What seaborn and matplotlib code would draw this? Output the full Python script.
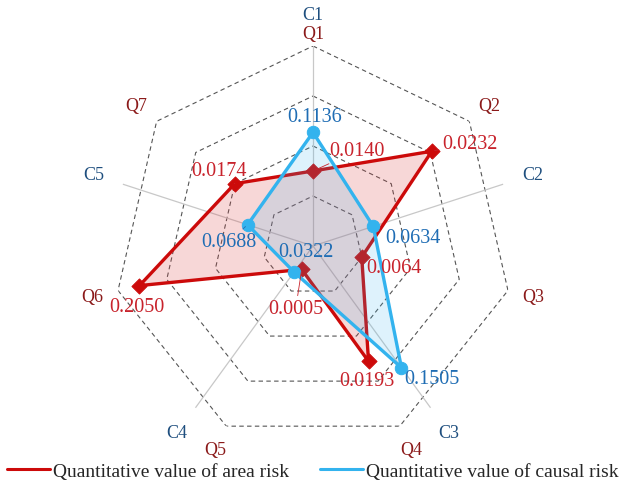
import numpy as np
import pandas as pd
import matplotlib
matplotlib.use("Agg")
import matplotlib.pyplot as plt
from matplotlib.lines import Line2D
import seaborn as sns

# data
area_axes = ["Q1", "Q2", "Q3", "Q4", "Q5", "Q6", "Q7"]
area_labels = ["0.0140", "0.0232", "0.0064", "0.0193", "0.0005", "0.2050", "0.0174"]
# radial position of the red points as drawn on the chart (ring step = 0.05)
area_plot = [0.075, 0.152, 0.050, 0.128, 0.026, 0.178, 0.100]

cause_axes = ["C1", "C2", "C3", "C4", "C5"]
cause_values = [0.1136, 0.0634, 0.1505, 0.0322, 0.0688]

rings = [0.05, 0.10, 0.15, 0.20]

# colours
red_line = "#cc0a0a"
red_text = "#c8232c"
q_col = "#8b1a1a"
blue_line = "#33b3ee"
blue_text = "#1f6db4"
c_col = "#1f4f7f"

sns.set_theme(style="white")
plt.rcParams["font.family"] = ["Liberation Serif", "DejaVu Serif"]

fig = plt.figure(figsize=(6.25, 4.85), dpi=100)
ax = fig.add_axes([0.1808, 0.0784, 0.64, 0.8247], projection="polar")
ax.set_theta_offset(np.pi / 2)
ax.set_theta_direction(-1)
ax.set_ylim(0, 0.20)
ax.grid(False)
ax.set_xticks([])
ax.set_yticks([])
ax.spines["polar"].set_visible(False)
ax.patch.set_alpha(0)

q_ang = np.linspace(0, 2 * np.pi, len(area_axes), endpoint=False)
c_ang = np.linspace(0, 2 * np.pi, len(cause_axes), endpoint=False)
q_closed = np.append(q_ang, 2 * np.pi)
c_closed = np.append(c_ang, 2 * np.pi)

# heptagon grid
for r in rings:
    ax.plot(q_closed, [r] * len(q_closed), color="#555555", lw=0.8,
            ls=(0, (4, 3)), zorder=1)

# C axis spokes
for a in c_ang:
    ax.plot([a, a], [0, rings[-1]], color="#c8c8c8", lw=0.9, zorder=1)

red_df = pd.DataFrame({"theta": q_closed, "r": area_plot + area_plot[:1]})
blue_df = pd.DataFrame({"theta": c_closed, "r": cause_values + cause_values[:1]})

ax.fill(red_df["theta"], red_df["r"], color="#d9383a", alpha=0.2, lw=0, zorder=2)
sns.lineplot(data=red_df, x="theta", y="r", sort=False, estimator=None,
             color=red_line, lw=2.4, ax=ax, zorder=3)
sns.scatterplot(x=q_ang, y=area_plot, marker="D", s=60, color=red_line,
                edgecolor=red_line, ax=ax, zorder=4)

ax.fill(blue_df["theta"], blue_df["r"], color=blue_line, alpha=0.16, lw=0, zorder=5)
sns.lineplot(data=blue_df, x="theta", y="r", sort=False, estimator=None,
             color=blue_line, lw=2.4, ax=ax, zorder=6)
sns.scatterplot(x=c_ang, y=cause_values, marker="o", s=80, color=blue_line,
                edgecolor=blue_line, ax=ax, zorder=7)
ax.set_xlabel("")
ax.set_ylabel("")
if ax.get_legend():
    ax.get_legend().remove()

# axis names
for a, name in zip(q_ang, area_axes):
    rr = 0.212 if name == "Q1" else 0.226
    ax.text(a, rr, name, color=q_col, fontsize=13, ha="center", va="center")
for a, name in zip(c_ang, cause_axes):
    ax.text(a, 0.231, name, color=c_col, fontsize=13, ha="center", va="center")

# value labels: offsets in pixels (right, down) and leader flag
red_off = [(44, -20, True), (38, -8, True), (32, 10, False), (-2, 19, False),
           (-6, 39, True), (-3, 21, False), (-16, -13, True)]
blue_off = [(2, -16, False), (40, 11, False), (30, 11, False), (12, -21, False),
            (-19, 17, True)]

def put(a, r, txt, off, col):
    dx, dy, lead = off
    kw = {}
    if lead:
        kw["arrowprops"] = dict(arrowstyle="-", color=col, lw=0.6,
                                shrinkA=0, shrinkB=2)
    ax.annotate(txt, xy=(a, r), xytext=(dx * 0.72, -dy * 0.72),
                textcoords="offset points", ha="center", va="center",
                color=col, fontsize=14.5, zorder=8, **kw)

for a, r, t, o in zip(q_ang, area_plot, area_labels, red_off):
    put(a, r, t, o, red_text)
for a, r, o in zip(c_ang, cause_values, blue_off):
    put(a, r, f"{r:.4f}", o, blue_text)

handles = [Line2D([], [], color=red_line, lw=2.2),
           Line2D([], [], color=blue_line, lw=2.2)]
fig.legend(handles, ["Quantitative value of area risk",
                     "Quantitative value of causal risk"],
           loc="center", bbox_to_anchor=(0.5, 0.026), ncol=2, frameon=False,
           fontsize=14, handlelength=2.2, handletextpad=0.15, columnspacing=1.6,
           borderpad=0.2, borderaxespad=0.0)

fig.savefig("out.png", dpi=100)
